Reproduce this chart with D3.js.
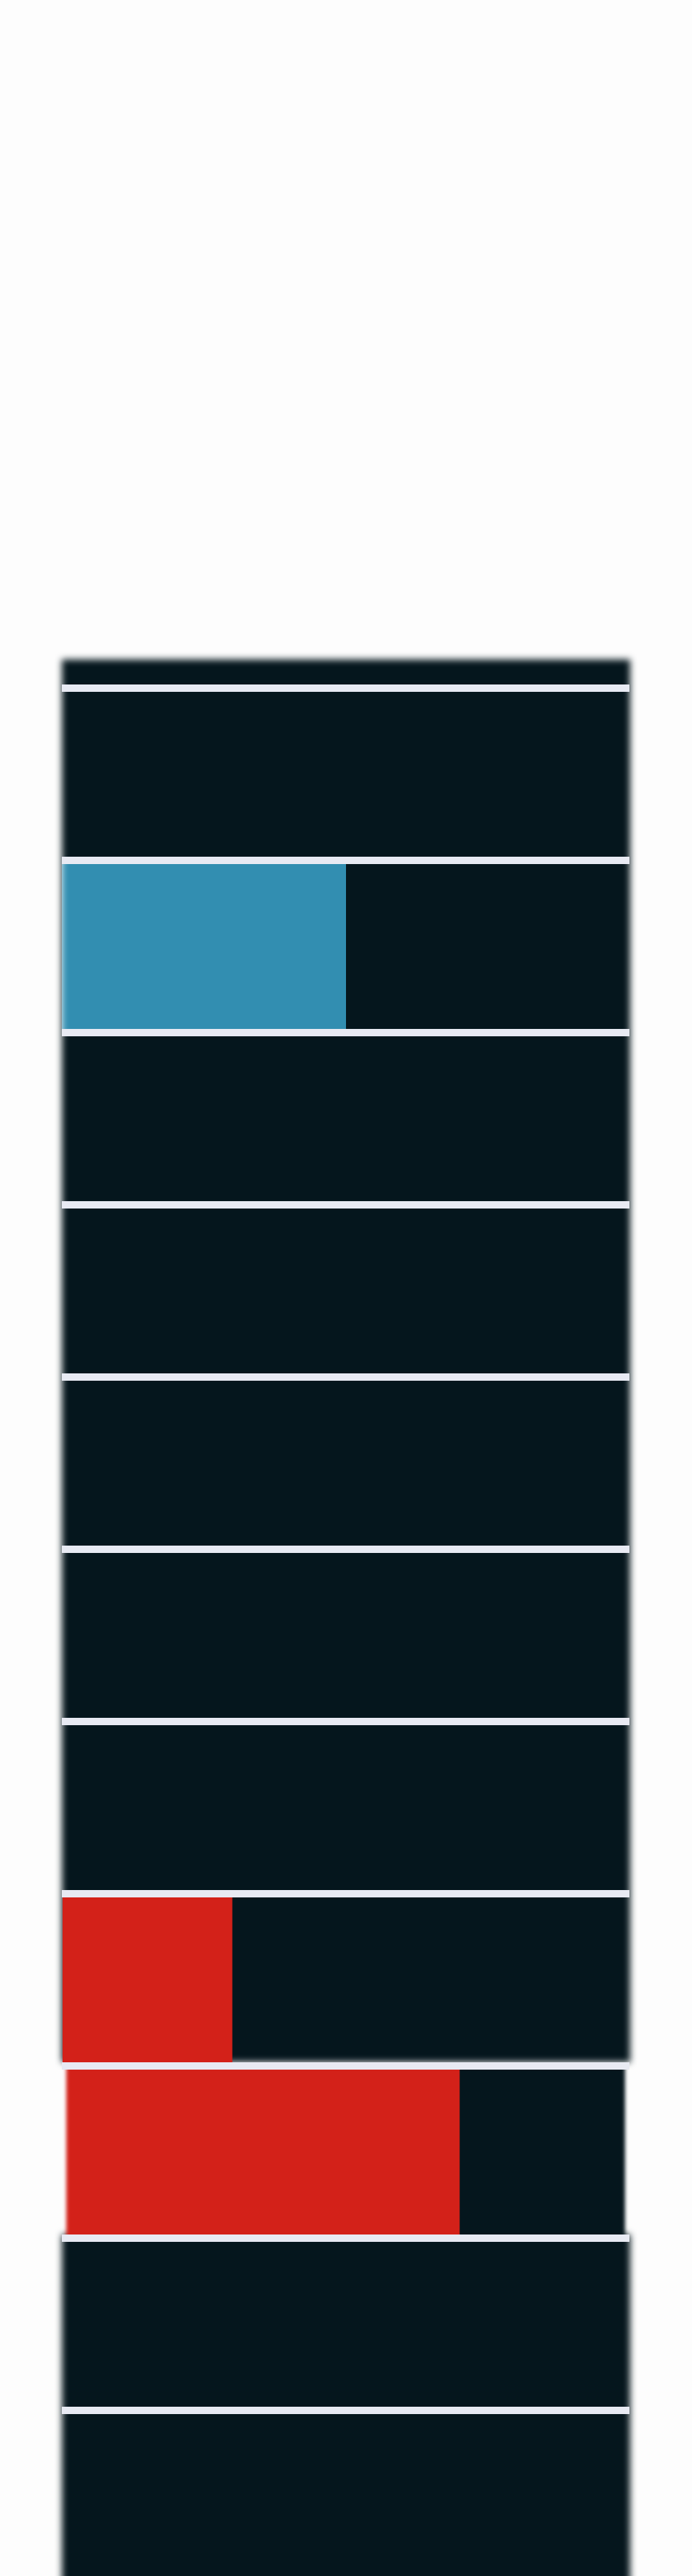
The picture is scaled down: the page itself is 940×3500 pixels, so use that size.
<!DOCTYPE html>
<html>
<head>
<meta charset="utf-8">
<script src="https://cdn.jsdelivr.net/npm/d3@7"></script>
<style>
  html, body { margin: 0; padding: 0; background: #fdfdfd; }
  svg { display: block; }
</style>
</head>
<body>
<svg id="chart" width="940" height="3500"></svg>
<script>
// ---- data ----
const categories = ["Row 1", "Row 2", "Row 3", "Row 4", "Row 5", "Row 6",
                    "Row 7", "Row 8", "Row 9", "Row 10", "Row 11", "Row 12"];
const values = [0, 0, 50, 0, 0, 0, 0, 0, 30, 70, 0, 0];
const groups = ["none", "none", "A", "none", "none", "none",
                "none", "none", "B", "B", "none", "none"];
const valueDomain = [0, 100];
const raisedRow = "Row 9";   // drawn above the soft panel
const focusRow = "Row 10";   // its own, narrower soft card

// ---- layout ----
const W = 940, H = 3500;
const panelTop = 896;
const darkColor = "#05161d";
const lineColor = "#e8eaf3";

const svg = d3.select("#chart");
const x = d3.scaleLinear().domain(valueDomain).range([84, 856]);
const y = d3.scaleBand().domain(categories).range([706, 3504])
  .paddingInner(10 / 234).paddingOuter(0);
const gap = y.step() - y.bandwidth();
const color = d3.scaleOrdinal().domain(["A", "B"]).range(["#328eb1", "#d32119"]);

const rows = categories.map((c, i) => ({ cat: c, value: values[i], group: groups[i] }));

const defs = svg.append("defs");
function blurFilter(id, sd) {
  defs.append("filter").attr("id", id)
    .attr("filterUnits", "userSpaceOnUse")
    .attr("x", -100).attr("y", -100).attr("width", W + 200).attr("height", H + 400)
    .append("feGaussianBlur").attr("stdDeviation", sd);
}
blurFilter("soft5", 5);
blurFilter("soft25", 2.5);

// main soft mask (panel with a notch at the focus row)
const mainMask = defs.append("mask").attr("id", "mainMask")
  .attr("maskUnits", "userSpaceOnUse")
  .attr("x", 0).attr("y", 0).attr("width", W).attr("height", H);
const mm = mainMask.append("g").attr("filter", "url(#soft5)");
mm.append("rect")
  .attr("x", x(valueDomain[0])).attr("y", panelTop)
  .attr("width", x(valueDomain[1]) - x(valueDomain[0]))
  .attr("height", y(focusRow) - gap - panelTop)
  .attr("fill", "#fff");
mm.append("rect")
  .attr("x", x(valueDomain[0])).attr("y", y(focusRow) + y.bandwidth())
  .attr("width", x(valueDomain[1]) - x(valueDomain[0]))
  .attr("height", H + 200 - (y(focusRow) + y.bandwidth()))
  .attr("fill", "#fff");

// focus-row soft mask (narrower)
const focusMask = defs.append("mask").attr("id", "focusMask")
  .attr("maskUnits", "userSpaceOnUse")
  .attr("x", 0).attr("y", 0).attr("width", W).attr("height", H);
focusMask.append("rect")
  .attr("x", x(valueDomain[0]) + 6).attr("y", y(focusRow) - 40)
  .attr("width", (x(valueDomain[1]) - 7) - (x(valueDomain[0]) + 6))
  .attr("height", y.bandwidth() + 80)
  .attr("fill", "#fff")
  .attr("filter", "url(#soft25)");

// ---- main panel ----
const main = svg.append("g").attr("mask", "url(#mainMask)");
main.append("rect")
  .attr("x", 50).attr("y", panelTop - 60)
  .attr("width", W - 100).attr("height", H - panelTop + 60)
  .attr("fill", darkColor);
main.selectAll("rect.bar")
  .data(rows.filter(d => d.cat !== focusRow && d.cat !== raisedRow && d.group !== "none"))
  .join("rect").attr("class", "bar")
  .attr("x", x(valueDomain[0]))
  .attr("y", d => y(d.cat))
  .attr("width", d => x(d.value) - x(valueDomain[0]))
  .attr("height", y.bandwidth())
  .attr("fill", d => color(d.group));

// ---- focus row card ----
const focus = svg.append("g").attr("mask", "url(#focusMask)");
focus.append("rect")
  .attr("x", 50).attr("y", y(focusRow) - gap)
  .attr("width", W - 100).attr("height", y.bandwidth() + 2 * gap)
  .attr("fill", darkColor);
focus.selectAll("rect.bar")
  .data(rows.filter(d => d.cat === focusRow))
  .join("rect").attr("class", "bar")
  .attr("x", x(valueDomain[0]) - 10)
  .attr("y", d => y(d.cat))
  .attr("width", d => x(d.value) - x(valueDomain[0]) + 10)
  .attr("height", y.bandwidth())
  .attr("fill", d => color(d.group));

// ---- raised row bar ----
svg.selectAll("rect.raised")
  .data(rows.filter(d => d.cat === raisedRow))
  .join("rect").attr("class", "raised")
  .attr("x", x(valueDomain[0]) + 1)
  .attr("y", d => y(d.cat))
  .attr("width", d => x(d.value) - x(valueDomain[0]) - 1)
  .attr("height", y.bandwidth())
  .attr("fill", d => color(d.group));

// ---- separator lines ----
svg.selectAll("rect.sep")
  .data(categories.slice(1))
  .join("rect").attr("class", "sep")
  .attr("x", x(valueDomain[0]))
  .attr("y", d => y(d) - gap)
  .attr("width", x(valueDomain[1]) - 1 - x(valueDomain[0]))
  .attr("height", gap)
  .attr("fill", lineColor);
</script>
</body>
</html>
